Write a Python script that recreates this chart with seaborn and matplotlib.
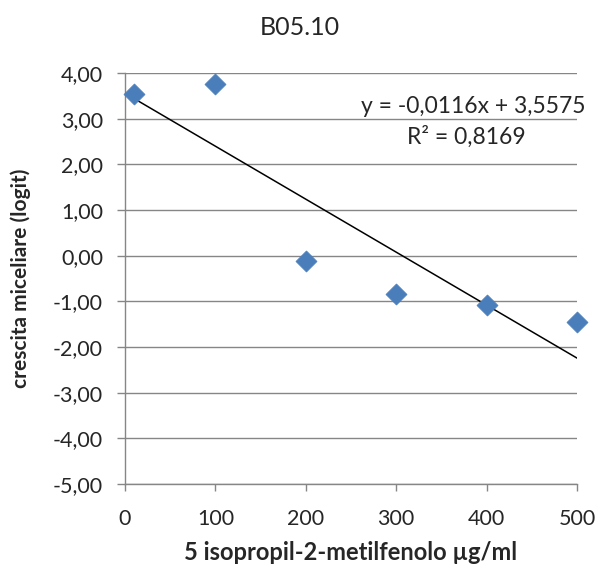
import matplotlib
matplotlib.use("Agg")
import matplotlib.pyplot as plt
import seaborn as sns
import numpy as np
import pandas as pd
from matplotlib.ticker import FuncFormatter

# Data
conc = [10, 100, 200, 300, 400, 500]
growth = [3.55, 3.75, -0.12, -0.85, -1.07, -1.45]
slope = -0.0116
intercept = 3.5575
eq_text = "y = -0,0116x + 3,5575"
r2_text = "R² = 0,8169"
title = "B05.10"
xlabel = "5 isopropil-2-metilfenolo µg/ml"
ylabel = "crescita miceliare (logit)"
x_ticks = [0, 100, 200, 300, 400, 500]
y_ticks = [-5, -4, -3, -2, -1, 0, 1, 2, 3, 4]

sns.set_theme(style="white")
plt.rcParams['font.family'] = ['Lato', 'DejaVu Sans']

df = pd.DataFrame({"x": conc, "y": growth})
trend_x = [min(conc), max(conc)]
trend = pd.DataFrame({"x": trend_x, "y": [slope * v + intercept for v in trend_x]})

fig = plt.figure(figsize=(6.0, 5.74), dpi=100)
ax = fig.add_axes([0.2083, 0.1568, 0.7533, 0.716])

grid_c = "#868686"
for yv in y_ticks:
    ax.axhline(yv, color=grid_c, lw=1.0, zorder=0)

sns.lineplot(data=trend, x="x", y="y", ax=ax, color="black", lw=1.1, zorder=2)
sns.scatterplot(data=df, x="x", y="y", ax=ax, marker="D", s=115, color="#4A7EBB",
                edgecolor="#4A7EBB", linewidth=0.5, zorder=3, clip_on=False)

ax.set_xlim(0, 500)
ax.set_ylim(-5, 4)
ax.set_xticks(x_ticks)
ax.set_yticks(y_ticks)
ax.yaxis.set_major_formatter(FuncFormatter(lambda v, p: f"{v:.2f}".replace(".", ",")))
ax.tick_params(axis="y", which="major", direction="out", length=5.8, width=1.0,
               color=grid_c, labelsize=15.5, pad=10, left=True)
ax.tick_params(axis="x", which="major", direction="out", length=5, width=1.0,
               color=grid_c, labelsize=15.5, pad=13, bottom=True)

for s in ["top", "right"]:
    ax.spines[s].set_visible(False)
for s in ["left", "bottom"]:
    ax.spines[s].set_color(grid_c)
    ax.spines[s].set_linewidth(1.0)

ax.set_xlabel(xlabel, fontsize=17, fontweight="bold", labelpad=9)
ax.set_ylabel(ylabel, fontsize=15, fontweight="bold", labelpad=16)
fig.text(0.5, 0.952, title, ha="center", va="center", fontsize=18)

ax.text(1.018, 0.918, eq_text, transform=ax.transAxes, ha="right", va="center", fontsize=16.5)
ax.text(0.755, 0.845, r2_text, transform=ax.transAxes, ha="center", va="center", fontsize=16.5)

fig.savefig("out.png", dpi=100)
